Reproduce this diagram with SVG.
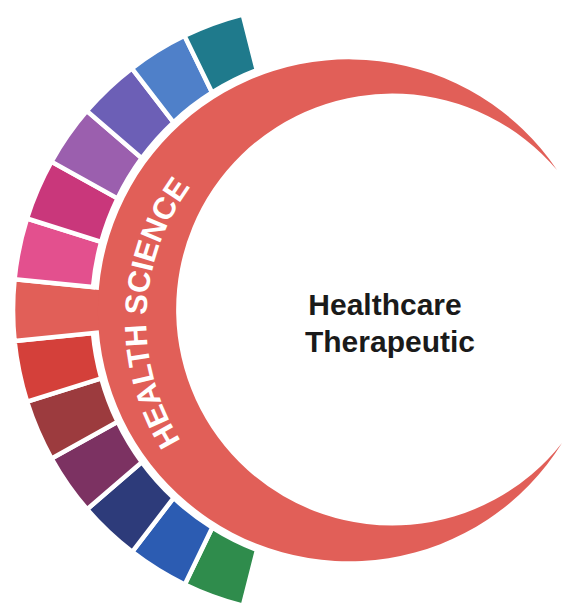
<svg xmlns="http://www.w3.org/2000/svg" width="563" height="611" viewBox="0 0 563 611">
  <defs>
    <style>
      .seg { stroke: #ffffff; stroke-width: 4.5; stroke-linejoin: miter; }
      .band { fill: #e15f58; }
      .arc-label { font-family: "Liberation Sans", Arial, sans-serif; font-weight: bold; font-size: 31px; fill: #ffffff; }
      .center-label { font-family: "Liberation Sans", Arial, sans-serif; font-weight: bold; font-size: 30px; fill: #1a1a1a; text-anchor: middle; }
    </style>
    <path id="labelArc" d="M 251.8 511.8 A 225.5 225.5 0 0 1 266.8 121.5"/>
  </defs>
  <rect width="563" height="611" fill="#ffffff"/>

  <g id="segments">
    <g id="seg-green"><path class="seg" fill="#2f8c4c" d="M 242.9 605.6 A 305 305 0 0 1 184.8 584.4 L 212.3 527.6 A 257 257 0 0 0 257.0 550.0 Z"/></g>
    <g id="seg-blue"><path class="seg" fill="#2c5cb2" d="M 184.8 584.4 A 305 305 0 0 1 132.2 551.8 L 173.6 497.9 A 257 257 0 0 0 212.3 527.6 Z"/></g>
    <g id="seg-navy"><path class="seg" fill="#2d3b7a" d="M 132.2 551.8 A 305 305 0 0 1 87.1 509.3 L 141.8 462.1 A 257 257 0 0 0 173.6 497.9 Z"/></g>
    <g id="seg-plum"><path class="seg" fill="#7c3262" d="M 87.1 509.3 A 305 305 0 0 1 51.6 458.5 L 117.6 421.8 A 257 257 0 0 0 141.8 462.1 Z"/></g>
    <g id="seg-brown"><path class="seg" fill="#9c3b3e" d="M 51.6 458.5 A 305 305 0 0 1 27.1 401.7 L 101.3 378.3 A 257 257 0 0 0 117.6 421.8 Z"/></g>
    <g id="seg-red"><path class="seg" fill="#d4403a" d="M 27.1 401.7 A 305 305 0 0 1 14.6 341.1 L 93.0 333.0 A 257 257 0 0 0 101.3 378.3 Z"/></g>
    <g id="seg-tab"><path class="seg band" d="M 14.6 341.1 A 305 305 0 0 1 14.6 279.2 L 114.1 289.3 L 114.1 330.9 Z"/></g>
    <g id="seg-pink"><path class="seg" fill="#e3508e" d="M 14.6 279.2 A 305 305 0 0 1 27.0 218.5 L 101.2 241.8 A 257 257 0 0 0 93.0 287.1 Z"/></g>
    <g id="seg-magenta"><path class="seg" fill="#c9377b" d="M 27.0 218.5 A 305 305 0 0 1 51.5 161.7 L 117.5 198.4 A 257 257 0 0 0 101.2 241.8 Z"/></g>
    <g id="seg-violet"><path class="seg" fill="#9b5fae" d="M 51.5 161.7 A 305 305 0 0 1 86.9 110.9 L 141.7 158.1 A 257 257 0 0 0 117.5 198.4 Z"/></g>
    <g id="seg-purple"><path class="seg" fill="#6c5fb6" d="M 86.9 110.9 A 305 305 0 0 1 131.9 68.4 L 173.5 122.3 A 257 257 0 0 0 141.7 158.1 Z"/></g>
    <g id="seg-lightblue"><path class="seg" fill="#4f80c9" d="M 131.9 68.4 A 305 305 0 0 1 184.5 35.8 L 212.1 92.5 A 257 257 0 0 0 173.5 122.3 Z"/></g>
    <g id="seg-teal"><path class="seg" fill="#1f7a8c" d="M 184.5 35.8 A 305 305 0 0 1 242.7 14.5 L 256.8 70.1 A 257 257 0 0 0 212.1 92.5 Z"/></g>
  </g>

  <g id="crescent">
    <path class="band" d="M 557 170 A 251 251 0 1 0 562 443 A 216 216 0 1 1 557 170 Z"/>
    <text class="arc-label"><textPath href="#labelArc" startOffset="50%" text-anchor="middle">HEALTH SCIENCE</textPath></text>
  </g>

  <g id="center">
    <text class="center-label" x="385" y="315">Healthcare</text>
    <text class="center-label" x="390" y="352">Therapeutic</text>
  </g>
</svg>
